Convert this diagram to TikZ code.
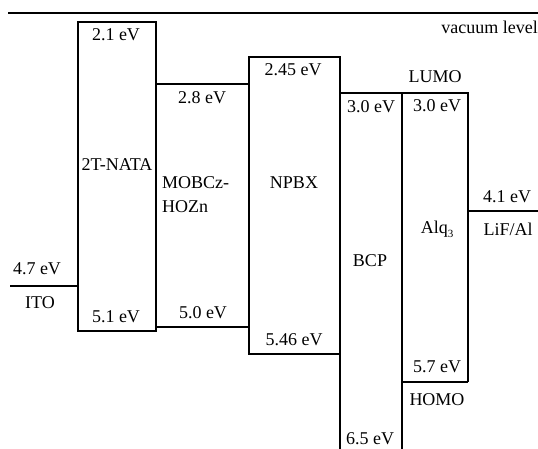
\documentclass[tikz,border=0pt]{standalone}
\usepackage{fontspec}
\setmainfont{Liberation Serif}
\newcommand{\mysubthree}{\raisebox{-0.45ex}{\fontsize{11}{11}\selectfont 3}}
\begin{document}
\begin{tikzpicture}[x=1pt,y=-1pt,
  lvl/.style={line width=1.3pt},
  thick lvl/.style={line width=2.2pt},
  lbl/.style={inner sep=0pt,font=\fontsize{18}{21}\selectfont}]
\useasboundingbox (0,0) rectangle (538,449);
% coordinates
\coordinate (v1) at (8,13);   \coordinate (v2) at (538,13);
\coordinate (ito1) at (10,286); \coordinate (ito2) at (78,286);
\coordinate (na1) at (78,22); \coordinate (na2) at (156,331);
\coordinate (mo1) at (156,84); \coordinate (mo2) at (249,84);
\coordinate (mo3) at (156,327); \coordinate (mo4) at (249,327);
\coordinate (np1) at (249,57); \coordinate (np2) at (340,354);
\coordinate (bcpL) at (340,449); \coordinate (bcpT) at (402,93);
\coordinate (bcpR) at (402,449); \coordinate (bcpTL) at (340,93);
\coordinate (alT) at (468,93); \coordinate (alB) at (468,382);
\coordinate (alBL) at (402,382);
\coordinate (li1) at (468,211); \coordinate (li2) at (538,211);
% lines
\draw[lvl] (v1) -- (v2);
\draw[lvl] (ito1) -- (ito2);
\draw[lvl] (na1) rectangle (na2);
\draw[lvl] (mo1) -- (mo2);
\draw[lvl] (mo3) -- (mo4);
\draw[lvl] (np1) rectangle (np2);
\draw[lvl] (np2) -- (bcpL);
\draw[lvl] (bcpTL) -- (bcpT) -- (alT) -- (alB);
\draw[lvl] (bcpT) -- (bcpR);
\draw[thick lvl] (alBL) -- (alB);
\draw[lvl] (li1) -- (li2);
% labels
\node[lbl,anchor=east] (tvac) at (538,27) {vacuum level};
\node[lbl] (t21) at (116,35) {2.1 eV};
\node[lbl] (tnata) at (117,165) {2T-NATA};
\node[lbl] (t28) at (202,98) {2.8 eV};
\node[lbl,anchor=west] (tmob) at (162,183) {MOBCz-};
\node[lbl,anchor=west] (thoz) at (162,207) {HOZn};
\node[lbl] (t245) at (293,70) {2.45 eV};
\node[lbl] (tnpbx) at (294,183) {NPBX};
\node[lbl] (tlumo) at (435,77) {LUMO};
\node[lbl] (t30a) at (371,107) {3.0 eV};
\node[lbl] (t30b) at (437,106) {3.0 eV};
\node[lbl] (t41) at (507,197) {4.1 eV};
\node[lbl] (tlif) at (508,229) {LiF/Al};
\node[lbl] (talq) at (437,229) {Alq\mysubthree};
\node[lbl] (tbcp) at (370,261) {BCP};
\node[lbl] (t47) at (37,269) {4.7 eV};
\node[lbl] (tito) at (40,303) {ITO};
\node[lbl] (t51) at (116,317) {5.1 eV};
\node[lbl] (t50) at (203,313) {5.0 eV};
\node[lbl] (t546) at (294,340) {5.46 eV};
\node[lbl] (t57) at (437,367) {5.7 eV};
\node[lbl] (thomo) at (437,400) {HOMO};
\node[lbl] (t65) at (370,439) {6.5 eV};
\end{tikzpicture}
\end{document}
